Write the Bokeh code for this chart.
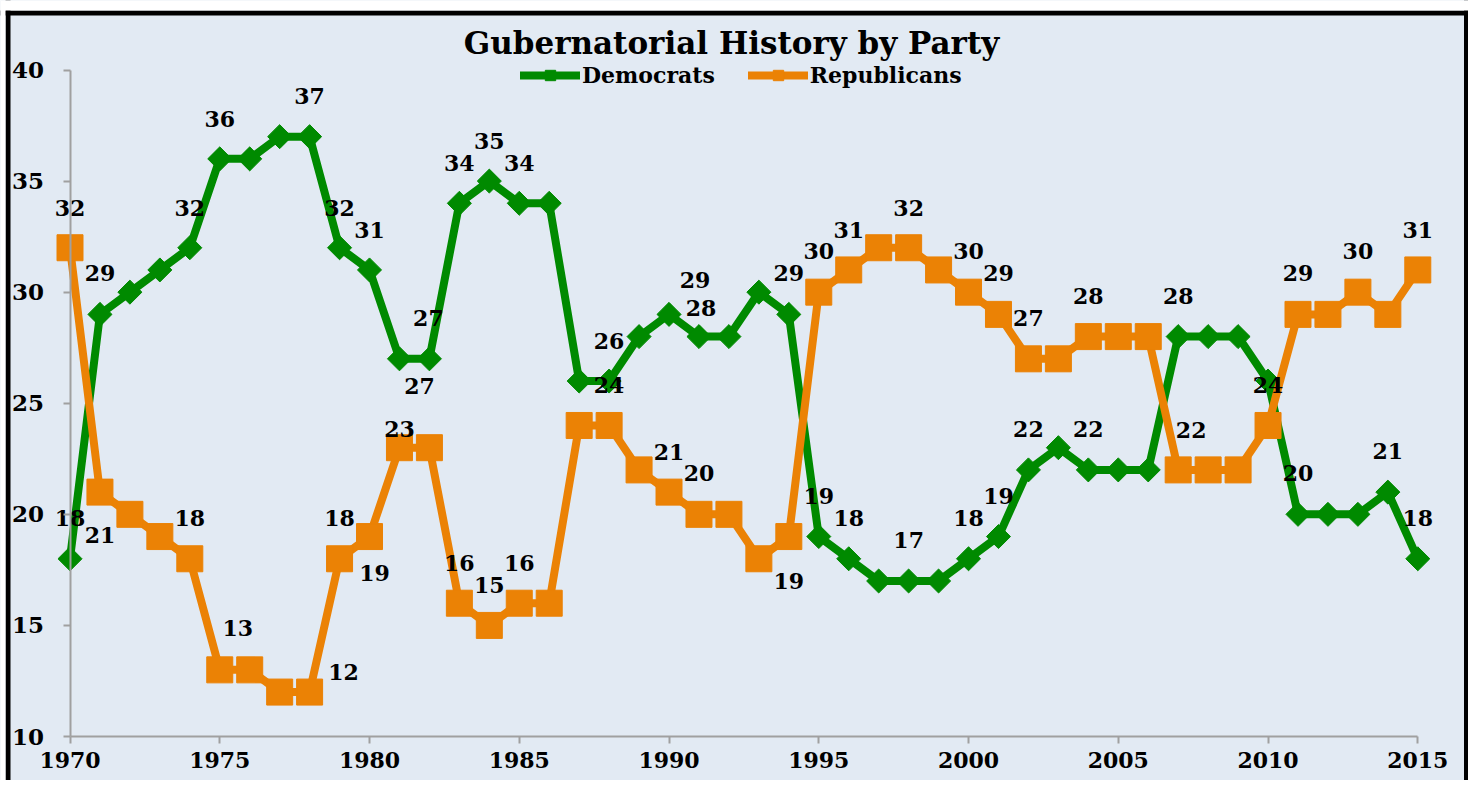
import math
from bokeh.plotting import figure
from bokeh.models import (Range1d, LinearAxis, FixedTicker, Legend, LegendItem,
                          Label, Span, ColumnDataSource)
from bokeh.core.properties import value
from bokeh.embed import file_html
from bokeh.resources import INLINE

# ---------------- data ----------------
years = list(range(1970, 2016))
democrats = [18, 29, 30, 31, 32, 36, 36, 37, 37, 32,
             31, 27, 27, 34, 35, 34, 34, 26, 26, 28,
             29, 28, 28, 30, 29, 19, 18, 17, 17, 17,
             18, 19, 22, 23, 22, 22, 22, 28, 28, 28,
             26, 20, 20, 20, 21, 18]
republicans = [32, 21, 20, 19, 18, 13, 13, 12, 12, 18,
               19, 23, 23, 16, 15, 16, 16, 24, 24, 22,
               21, 20, 20, 18, 19, 30, 31, 32, 32, 31,
               30, 29, 27, 27, 28, 28, 28, 22, 22, 22,
               24, 29, 29, 30, 29, 31]
x_ticks = [1970, 1975, 1980, 1985, 1990, 1995, 2000, 2005, 2010, 2015]
y_ticks = [10, 15, 20, 25, 30, 35, 40]
title_text = "Gubernatorial History by Party"
series_names = ["Democrats", "Republicans"]

# which points carry a data label, with pixel offsets (style only)
dem_labels = [(1970, 0, -41), (1971, 0, -41), (1974, 0, -40), (1975, 0, -40),
              (1978, 0, -41), (1979, 0, -40), (1980, 0, -40), (1981, 20, 27),
              (1982, -1, -41), (1983, 0, -40), (1984, 0, -40), (1985, 0, -40),
              (1988, 0, -40), (1990, 26, -34), (1991, 2, -29), (1994, 0, -41),
              (1995, 0, -41), (1996, 0, -41), (1998, 0, -41), (2000, 0, -41),
              (2001, 0, -41), (2002, 0, -41), (2004, 0, -41), (2007, 0, -41),
              (2011, 0, -41), (2014, 0, -41), (2015, 0, -41)]
rep_labels = [(1970, 0, -40), (1971, 0, 43), (1974, 0, -41), (1975, 18, -42),
              (1978, 34, -20), (1979, 0, -41), (1980, 5, 36), (1981, 0, -19),
              (1983, 0, -40), (1984, 0, -40), (1985, 0, -40), (1988, 0, -40),
              (1990, 0, -40), (1991, 0, -41), (1994, 0, 44), (1995, 0, -41),
              (1996, 0, -40), (1998, 0, -40), (2000, 0, -41), (2001, 0, -41),
              (2002, 0, -41), (2004, 0, -41), (2008, -17, -40), (2010, 0, -40),
              (2011, 0, -41), (2013, 0, -41), (2015, 0, -40)]

# ---------------- styling / layout ----------------
GREEN = "#008A00"
ORANGE = "#EB8205"
BG = "#E2EAF3"
AXIS = "#A0A0A0"
FONT = "DejaVu Serif"

W, H = 1468, 780
PX_YEAR = 29.951       # pixels per year
PX_UNIT = 22.217       # pixels per governor
X0_PX, Y40_PX = 69.5, 69.5   # canvas position of 1970 / value 40

x_start = 1970 - X0_PX / PX_YEAR
x_end = 1970 + (W - X0_PX) / PX_YEAR
y_end = 40 + Y40_PX / PX_UNIT
y_start = 40 - (H - Y40_PX) / PX_UNIT

p = figure(width=W, height=H, output_backend="svg", toolbar_location=None,
           x_range=Range1d(x_start, x_end), y_range=Range1d(y_start, y_end),
           x_axis_type=None, y_axis_type=None, title=None, min_border=0)
p.background_fill_color = BG
p.border_fill_color = BG
p.outline_line_color = None

def style_axis(ax, size):
    ax.axis_line_color = AXIS
    ax.axis_line_width = 2
    ax.major_tick_line_color = AXIS
    ax.major_tick_line_width = 2
    ax.major_tick_out = 7
    ax.major_tick_in = 0
    ax.minor_tick_line_color = None
    ax.major_label_text_font = FONT
    ax.major_label_text_font_style = "bold"
    ax.major_label_text_font_size = size
    ax.major_label_text_color = "black"

xaxis = LinearAxis(fixed_location=10, bounds=(1970, 2015),
                   ticker=FixedTicker(ticks=x_ticks))
style_axis(xaxis, "22px")
xaxis.major_label_standoff = 8
p.add_layout(xaxis, "below")

yaxis = LinearAxis(fixed_location=1970, bounds=(10, 40),
                   ticker=FixedTicker(ticks=y_ticks))
style_axis(yaxis, "23px")
yaxis.major_label_standoff = 19
p.add_layout(yaxis, "left")

# ---------------- series ----------------
dem_line = p.line(years, democrats, line_color=GREEN, line_width=8,
                  line_join="round", line_cap="round")
dem_pts = p.scatter(years, democrats, marker="square", angle=math.pi / 4,
                    size=17, fill_color=GREEN, line_color=GREEN)
rep_line = p.line(years, republicans, line_color=ORANGE, line_width=8,
                  line_join="round", line_cap="round")
rep_pts = p.scatter(years, republicans, marker="square", size=26,
                    fill_color=ORANGE, line_color=ORANGE)

def label_source(spec, vals):
    xs = [yr for yr, _, _ in spec]
    ys = [vals[years.index(yr)] for yr, _, _ in spec]
    return ColumnDataSource(dict(x=xs, y=ys, text=[str(v) for v in ys],
                                 dx=[d for _, d, _ in spec],
                                 dy=[d for _, _, d in spec]))

for spec, vals in ((dem_labels, democrats), (rep_labels, republicans)):
    p.text(x="x", y="y", text="text", x_offset="dx", y_offset="dy",
           source=label_source(spec, vals), text_font=value(FONT),
           text_font_style="bold", text_font_size="22px", text_color="black",
           text_align="center", text_baseline="middle")

# ---------------- legend ----------------
legend = Legend(items=[LegendItem(label=series_names[0], renderers=[dem_line, dem_pts]),
                       LegendItem(label=series_names[1], renderers=[rep_line, rep_pts])],
                location=(520, H - 88), orientation="horizontal",
                glyph_width=60, glyph_height=26, label_height=26,
                label_standoff=2, spacing=33, padding=0, margin=0,
                border_line_color=None, background_fill_alpha=0,
                label_text_font=FONT, label_text_font_style="bold",
                label_text_font_size="22px", label_text_color="black")
p.add_layout(legend)

# ---------------- title ----------------
p.add_layout(Label(x=731, y=H - 42, x_units="screen", y_units="screen",
                   text=title_text, text_align="center",
                   text_baseline="alphabetic", text_font=FONT,
                   text_font_style="bold", text_font_size="31px",
                   text_color="black"))

# ---------------- chart border (left, top, right) ----------------
p.add_layout(Span(location=x_start + 7.5 / PX_YEAR, dimension="height",
                  line_color="black", line_width=5))
p.add_layout(Span(location=x_start + 1466.5 / PX_YEAR, dimension="height",
                  line_color="black", line_width=6))
p.add_layout(Span(location=y_end - 12.5 / PX_UNIT, dimension="width",
                  line_color="black", line_width=5))
p.add_layout(Span(location=x_start + 2.5 / PX_YEAR, dimension="height",
                  line_color="white", line_width=5))
p.add_layout(Span(location=y_end - 5 / PX_UNIT, dimension="width",
                  line_color="white", line_width=10))

open("out.html", "w").write(file_html(p, INLINE))
